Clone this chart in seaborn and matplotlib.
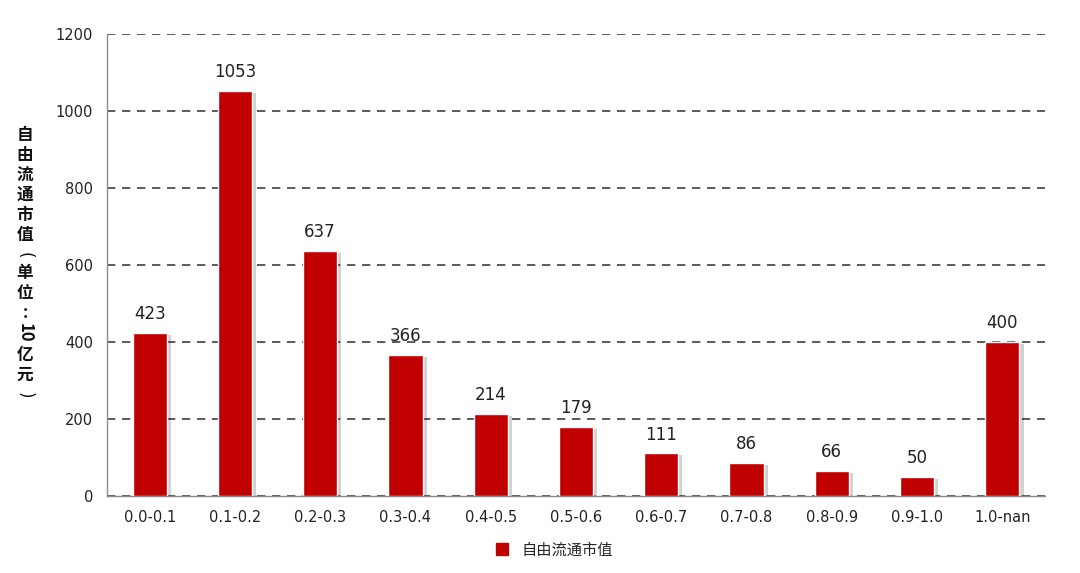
import numpy as np
import pandas as pd
import seaborn as sns
import matplotlib.pyplot as plt
import matplotlib.patheffects as pe
from matplotlib.lines import Line2D

sns.set_style('white')
plt.rcParams['font.family'] = ['DejaVu Sans', 'Noto Sans CJK SC']

bins = ['0.0-0.1', '0.1-0.2', '0.2-0.3', '0.3-0.4', '0.4-0.5', '0.5-0.6',
        '0.6-0.7', '0.7-0.8', '0.8-0.9', '0.9-1.0', '1.0-nan']
free_float_cap = [423, 1053, 637, 366, 214, 179, 111, 86, 66, 50, 400]
yticks = [0, 200, 400, 600, 800, 1000, 1200]
series_name = '自由流通市值'

df = pd.DataFrame({'bin': bins, 'cap': free_float_cap})

fig = plt.figure(figsize=(10.8, 5.73), dpi=100)
ax = fig.add_axes([107/1080, 1-496/573, (1045-107)/1080, (496-34)/573])

sns.barplot(data=df, x='bin', y='cap', color='#C00000', saturation=1, width=0.4, ax=ax)
for p in ax.patches:
    p.set_path_effects([pe.SimplePatchShadow(offset=(3, -1.5), shadow_rgbFace='#000000', alpha=0.18),
                        pe.Normal()])
    p.set_zorder(3)

for i, v in enumerate(free_float_cap):
    ax.annotate(str(v), (i, v), xytext=(0, 7), textcoords='offset points',
                ha='center', va='bottom', fontsize=12, color='#222222')

ax.set_xlim(-0.5, len(bins) - 0.5)
ax.set_ylim(0, 1200)
ax.set_yticks(yticks)
ax.yaxis.grid(True, linestyle=(0, (5, 4)), color='#404040', linewidth=1.2)
ax.set_axisbelow(True)
ax.set_xlabel('')
ax.set_ylabel('')
ax.tick_params(axis='both', length=0, labelsize=10.5, colors='#222222')
ax.tick_params(axis='x', pad=10)
ax.tick_params(axis='y', pad=10)
for s in ['top', 'right']:
    ax.spines[s].set_visible(False)
for s in ['left', 'bottom']:
    ax.spines[s].set_color('#8c8c8c')
    ax.spines[s].set_linewidth(1)

# vertical y label, one glyph per line
cjk = ['Noto Sans CJK SC', 'DejaVu Sans']
label_parts = ['自', '由', '流', '通', '市', '值', '(', '单', '位', ':', '10', '亿', '元', ')']
y = 135
for ch in label_parts:
    if ch == '10':
        y += 3
        fig.text(25/1080, 1 - y/573, ch, rotation=-90, ha='center', va='center', family=cjk,
                 fontsize=12, fontweight='bold', color='#111111')
        y += 22
    elif ch in '()':
        fig.text(25/1080, 1 - y/573, ch, rotation=-90, ha='center', va='center',
                 family='DejaVu Sans', fontsize=12, color='#111111')
        y += 18
    elif ch == ':':
        fig.text(25/1080, 1 - y/573, ch, ha='center', va='center', family=cjk,
                 fontsize=12, fontweight='bold', color='#111111')
        y += 17
    else:
        fig.text(25/1080, 1 - y/573, ch, ha='center', va='center', family=cjk,
                 fontsize=12, fontweight='bold', color='#111111')
        y += 20

handle = Line2D([], [], marker='s', linestyle='none', markersize=9,
                markerfacecolor='#C00000', markeredgecolor='#C00000')
fig.legend([handle], [series_name], loc='center', bbox_to_anchor=(550/1080, 1 - 550/573),
           frameon=False, prop={'family': cjk, 'size': 11}, handletextpad=0.3)

fig.savefig('out.png', dpi=100)
